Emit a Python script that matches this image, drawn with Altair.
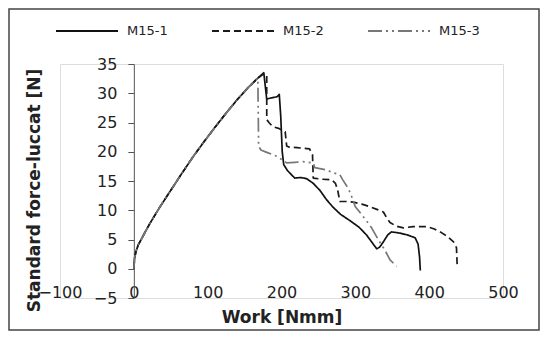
import altair as alt
import pandas as pd

# ---- data ----
series_names = ["M15-1", "M15-2", "M15-3"]

rise_x = [0, 1, 3, 6, 10, 15, 22, 35, 50, 65, 80, 95, 110, 125, 140, 155, 168]
rise_y = [0, 1.8, 3.0, 4.1, 5.0, 6.2, 7.8, 10.5, 13.4, 16.3, 19.1, 21.7, 24.2, 26.6, 28.9, 31.0, 32.6]

m1_x = rise_x + [176, 180, 186, 194, 197, 199, 201, 203, 208, 214, 218, 226, 234, 243, 252, 261,
                 270, 280, 293, 305, 315, 322, 329, 333, 338, 344, 349, 355, 360, 370, 381, 385, 387, 388]
m1_y = rise_y + [33.5, 29.0, 29.2, 29.4, 29.8, 26.0, 20.0, 17.8, 16.8, 16.0, 15.5, 15.6, 15.4, 14.6, 13.4, 11.8,
                 10.5, 9.3, 8.2, 7.1, 5.8, 4.6, 3.4, 3.7, 4.6, 5.8, 6.3, 6.2, 6.1, 5.8, 5.3, 4.2, 2.0, -0.3]

m2_x = rise_x + [177, 180, 180, 183, 188, 196, 205, 207, 210, 221, 238, 242, 243, 255, 268, 273, 276, 279,
                 288, 297, 310, 320, 330, 338, 343, 347, 355, 365, 378, 397, 407, 415, 425, 433, 437, 438]
m2_y = rise_y + [33.4, 33.0, 25.5, 25.0, 24.3, 24.0, 23.4, 21.0, 20.8, 20.7, 20.5, 19.5, 15.5, 15.3, 15.2, 14.6, 13.5, 11.5,
                 11.5, 11.4, 11.0, 10.6, 10.1, 9.7, 8.6, 7.9, 7.3, 7.0, 7.2, 7.2, 6.8, 6.3, 5.5, 4.6, 3.6, 0.4]

m3_x = rise_x + [169, 172, 180, 194, 207, 218, 229, 243, 245, 261, 270, 279, 283, 290, 293, 300, 309, 315,
                 322, 331, 340, 347, 356]
m3_y = rise_y + [21.0, 20.3, 19.9, 19.2, 18.1, 18.2, 18.3, 18.1, 17.3, 16.9, 16.4, 16.1, 15.2, 13.8, 13.0, 10.6, 9.2, 8.2,
                 7.0, 5.0, 3.2, 1.5, 0.4]

x_ticks = [-100, 0, 100, 200, 300, 400, 500]
y_ticks = [-5, 0, 5, 10, 15, 20, 25, 30, 35]

rows = []
for name, xs, ys in zip(series_names, [m1_x, m2_x, m3_x], [m1_y, m2_y, m3_y]):
    for i, (xv, yv) in enumerate(zip(xs, ys)):
        rows.append({"series": name, "x": xv, "y": yv, "i": i})
df = pd.DataFrame(rows)

FONT = "DejaVu Sans"
W, H = 443, 234

lines = alt.Chart(df).mark_line(strokeWidth=1.7, strokeJoin="round").encode(
    x=alt.X("x:Q", scale=alt.Scale(domain=[-100, 500], nice=False, zero=False),
            axis=alt.Axis(values=x_ticks, title="Work [Nmm]", grid=False, ticks=False, domain=False,
                          labelBaseline="middle", labelPadding=-6, labelFont=FONT, labelFontSize=16,
                          labelColor="#222", titleFont=FONT, titleFontSize=17, titleFontWeight="bold",
                          titleColor="#222", titlePadding=9, labelFlush=False, labelOverlap=False)),
    y=alt.Y("y:Q", scale=alt.Scale(domain=[-5, 35], nice=False, zero=False),
            axis=alt.Axis(values=y_ticks, title="Standard force-luccat [N]", grid=False, offset=-W / 6,
                          domainColor="#555", tickColor="#555", tickSize=6, labelPadding=11,
                          labelFont=FONT, labelFontSize=16, labelColor="#222", titleFont=FONT,
                          titleFontSize=17, titleFontWeight="bold", titleColor="#222",
                          titleX=-99, titleY=126, titleBaseline="middle", titleAngle=270,
                          labelFlush=False, labelOverlap=False)),
    color=alt.Color("series:N", scale=alt.Scale(domain=series_names, range=["#111111", "#1a1a1a", "#777777"]),
                    legend=alt.Legend(title=None, orient="none", direction="horizontal", legendX=-5, legendY=-65,
                                      symbolType="stroke", symbolSize=3844, symbolStrokeWidth=1.8,
                                      labelFont=FONT, labelFontSize=13, labelColor="#222", labelOffset=8,
                                      columnPadding=40)),
    strokeDash=alt.StrokeDash("series:N", scale=alt.Scale(domain=series_names,
                                                          range=[[1, 0], [7, 4], [14, 4, 2, 4, 2, 4]]),
                              legend=None),
    order=alt.Order("i:Q"),
)

frame = alt.Chart(alt.Data(values=[{}])).mark_rect(fill=None, stroke="#444", strokeWidth=1.5).encode(
    x=alt.value(-51), x2=alt.value(479), y=alt.value(-55), y2=alt.value(266)
)

chart = alt.layer(frame, lines).properties(
    width=W, height=H,
    autosize=alt.AutoSizeParams(type="none"),
    padding={"left": 52, "top": 56, "right": 37, "bottom": 33},
).configure_view(stroke="#8a8a8a", strokeWidth=1.2).configure(background="white")

chart.save("out.html", embed_options={"renderer": "svg", "actions": False})
